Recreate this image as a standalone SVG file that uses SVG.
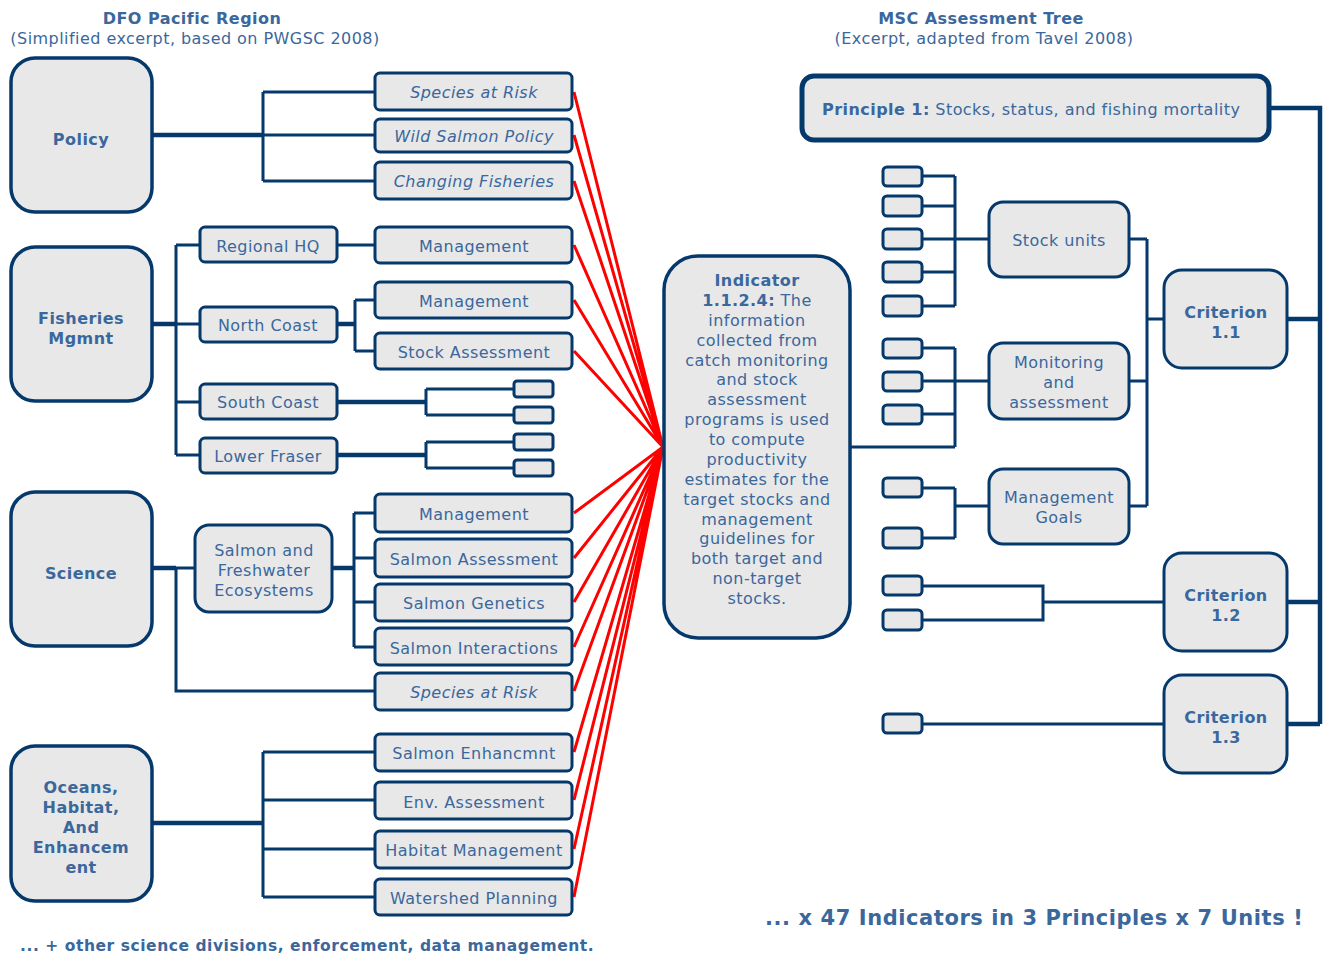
<svg xmlns="http://www.w3.org/2000/svg" width="1324" height="956" viewBox="0 0 1324 956">
<style>
text{font-family:"DejaVu Sans","Verdana",sans-serif;fill:#3a679c;font-size:16px;text-anchor:middle;dominant-baseline:central;letter-spacing:0.45px}
.b{font-weight:bold}
.i{font-style:italic}
.box{fill:#e8e8e8;stroke:#05386b;stroke-width:3}
.big{fill:#e8e8e8;stroke:#05386b;stroke-width:3.5}
.ln{fill:none;stroke:#05386b;stroke-width:3}
.th{fill:none;stroke:#05386b;stroke-width:4.5}
.red{fill:none;stroke:#ff0000;stroke-width:3}
</style>
<rect width="1324" height="956" fill="#ffffff"/>
<g id="titles">
<text x="192" y="18" class="b">DFO Pacific Region</text>
<text x="195" y="38">(Simplified excerpt, based on PWGSC 2008)</text>
<text x="981" y="18" class="b">MSC Assessment Tree</text>
<text x="984" y="38">(Excerpt, adapted from Tavel 2008)</text>
</g>
<g id="connectors">
<path class="th" d="M152,135H263"/>
<path class="ln" d="M263,135H375M263,92V181M263,92H375M263,181H375"/>
<path class="th" d="M152,324H176"/>
<path class="ln" d="M176,324H200M176,245V455M176,245H200M176,402H200M176,455H200M337,245H375"/>
<path class="th" d="M337,324H355"/>
<path class="ln" d="M355,300V351M355,300H375M355,351H375"/>
<path class="th" d="M337,402H426M337,455H426"/>
<path class="ln" d="M426,389V415M426,389H514M426,415H514M426,442V468M426,442H514M426,468H514"/>
<path class="th" d="M152,568H176"/>
<path class="ln" d="M176,568H195M176,568V691H375"/>
<path class="th" d="M332,568H354"/>
<path class="ln" d="M354,513V647M354,513H375M354,558H375M354,602H375M354,647H375"/>
<path class="th" d="M152,823H263"/>
<path class="ln" d="M263,752V897M263,752H375M263,800H375M263,849H375M263,897H375"/>
<path class="th" d="M1269,108H1320V724M1287,319H1320M1287,602H1320M1287,724H1320"/>
<path class="ln" d="M1147,239V506M1129,239H1147M1129,381H1147M1129,506H1147M1147,319H1164"/>
<path class="ln" d="M955,176V306M922,176H955M922,206H955M922,239H955M922,272H955M922,306H955M955,239H989"/>
<path class="ln" d="M955,348V447M922,348H955M922,381H955M922,414H955M955,381H989M851,447H955"/>
<path class="ln" d="M955,488V538M922,488H955M922,538H955M955,506H989"/>
<path class="ln" d="M922,586H1043V620H922M1043,602H1164"/>
<path class="ln" d="M922,724H1164"/>
</g>
<g id="red-links">
<path class="red" d="M574,92L663,447M574,135L663,447M574,181L663,447M574,245L663,447M574,300L663,447M574,351L663,447M574,513L663,447M574,558L663,447M574,602L663,447M574,647L663,447M574,691L663,447M574,752L663,447M574,800L663,447M574,849L663,447M574,897L663,447"/>
</g>
<g id="policy"><rect class="big" x="11" y="58" width="141" height="154" rx="24"/><text x="81" y="139" class="b">Policy</text></g>
<g id="fisheries"><rect class="big" x="11" y="247" width="141" height="154" rx="24"/><text x="81" y="318" class="b">Fisheries</text><text x="81" y="338" class="b">Mgmnt</text></g>
<g id="science"><rect class="big" x="11" y="492" width="141" height="154" rx="24"/><text x="81" y="573" class="b">Science</text></g>
<g id="oceans"><rect class="big" x="11" y="746" width="141" height="155" rx="24"/><text x="81" y="787" class="b">Oceans,</text><text x="81" y="807" class="b">Habitat,</text><text x="81" y="827" class="b">And</text><text x="81" y="847" class="b">Enhancem</text><text x="81" y="867" class="b">ent</text></g>
<g id="policy-sar"><rect class="box" x="375" y="73" width="197" height="37" rx="5"/><text x="474" y="92" class="i">Species at Risk</text></g>
<g id="policy-wsp"><rect class="box" x="375" y="119" width="197" height="33" rx="5"/><text x="474" y="136" class="i">Wild Salmon Policy</text></g>
<g id="policy-cf"><rect class="box" x="375" y="162" width="197" height="37" rx="5"/><text x="474" y="181" class="i">Changing Fisheries</text></g>
<g id="regional-hq"><rect class="box" x="200" y="227" width="137" height="35" rx="5"/><text x="268" y="246">Regional HQ</text></g>
<g id="north-coast"><rect class="box" x="200" y="307" width="137" height="35" rx="5"/><text x="268" y="325">North Coast</text></g>
<g id="south-coast"><rect class="box" x="200" y="384" width="137" height="35" rx="5"/><text x="268" y="402">South Coast</text></g>
<g id="lower-fraser"><rect class="box" x="200" y="438" width="137" height="35" rx="5"/><text x="268" y="456">Lower Fraser</text></g>
<g id="hq-management"><rect class="box" x="375" y="227" width="197" height="36" rx="5"/><text x="474" y="246">Management</text></g>
<g id="nc-management"><rect class="box" x="375" y="282" width="197" height="36" rx="5"/><text x="474" y="301">Management</text></g>
<g id="nc-stock"><rect class="box" x="375" y="333" width="197" height="36" rx="5"/><text x="474" y="352">Stock Assessment</text></g>
<g id="small-left">
<rect class="box" x="514" y="381" width="39" height="16" rx="3"/>
<rect class="box" x="514" y="407" width="39" height="16" rx="3"/>
<rect class="box" x="514" y="434" width="39" height="16" rx="3"/>
<rect class="box" x="514" y="460" width="39" height="16" rx="3"/>
</g>
<g id="sfe"><rect class="box" x="195" y="525" width="137" height="87" rx="14"/><text x="264" y="550">Salmon and</text><text x="264" y="570">Freshwater</text><text x="264" y="590">Ecosystems</text></g>
<g id="sci-management"><rect class="box" x="375" y="494" width="197" height="38" rx="5"/><text x="474" y="514">Management</text></g>
<g id="sci-assessment"><rect class="box" x="375" y="539" width="197" height="38" rx="5"/><text x="474" y="559">Salmon Assessment</text></g>
<g id="sci-genetics"><rect class="box" x="375" y="584" width="197" height="37" rx="5"/><text x="474" y="603">Salmon Genetics</text></g>
<g id="sci-interactions"><rect class="box" x="375" y="628" width="197" height="37" rx="5"/><text x="474" y="648">Salmon Interactions</text></g>
<g id="sci-sar"><rect class="box" x="375" y="673" width="197" height="37" rx="5"/><text x="474" y="692" class="i">Species at Risk</text></g>
<g id="ohe-enh"><rect class="box" x="375" y="734" width="197" height="37" rx="5"/><text x="474" y="753">Salmon Enhancmnt</text></g>
<g id="ohe-env"><rect class="box" x="375" y="782" width="197" height="37" rx="5"/><text x="474" y="802">Env. Assessment</text></g>
<g id="ohe-habitat"><rect class="box" x="375" y="831" width="197" height="37" rx="5"/><text x="474" y="850">Habitat Management</text></g>
<g id="ohe-watershed"><rect class="box" x="375" y="879" width="197" height="36" rx="5"/><text x="474" y="898">Watershed Planning</text></g>
<g id="indicator"><rect class="big" x="664" y="256" width="186" height="382" rx="34"/>
<text x="757" y="280" class="b">Indicator</text>
<text x="757" y="300"><tspan class="b">1.1.2.4:</tspan> The</text>
<text x="757" y="320">information</text>
<text x="757" y="340">collected from</text>
<text x="757" y="360">catch monitoring</text>
<text x="757" y="379">and stock</text>
<text x="757" y="399">assessment</text>
<text x="757" y="419">programs is used</text>
<text x="757" y="439">to compute</text>
<text x="757" y="459">productivity</text>
<text x="757" y="479">estimates for the</text>
<text x="757" y="499">target stocks and</text>
<text x="757" y="519">management</text>
<text x="757" y="538">guidelines for</text>
<text x="757" y="558">both target and</text>
<text x="757" y="578">non-target</text>
<text x="757" y="598">stocks.</text>
</g>
<g id="principle1"><rect x="802" y="76" width="467" height="64" rx="12" fill="#e8e8e8" stroke="#05386b" stroke-width="5"/><text x="822" y="109" style="text-anchor:start"><tspan class="b">Principle 1:</tspan> Stocks, status, and fishing mortality</text></g>
<g id="stock-units"><rect class="box" x="989" y="202" width="140" height="75" rx="14"/><text x="1059" y="240">Stock units</text></g>
<g id="monitoring"><rect class="box" x="989" y="343" width="140" height="76" rx="14"/><text x="1059" y="362">Monitoring</text><text x="1059" y="382">and</text><text x="1059" y="402">assessment</text></g>
<g id="mgmt-goals"><rect class="box" x="989" y="469" width="140" height="75" rx="14"/><text x="1059" y="497">Management</text><text x="1059" y="517">Goals</text></g>
<g id="criterion-1-1"><rect class="box" x="1164" y="270" width="123" height="98" rx="18"/><text x="1226" y="312" class="b">Criterion</text><text x="1226" y="332" class="b">1.1</text></g>
<g id="criterion-1-2"><rect class="box" x="1164" y="553" width="123" height="98" rx="18"/><text x="1226" y="595" class="b">Criterion</text><text x="1226" y="615" class="b">1.2</text></g>
<g id="criterion-1-3"><rect class="box" x="1164" y="675" width="123" height="98" rx="18"/><text x="1226" y="717" class="b">Criterion</text><text x="1226" y="737" class="b">1.3</text></g>
<g id="small-right">
<rect class="box" x="883" y="167" width="39" height="19" rx="4"/>
<rect class="box" x="883" y="196" width="39" height="20" rx="4"/>
<rect class="box" x="883" y="229" width="39" height="20" rx="4"/>
<rect class="box" x="883" y="262" width="39" height="20" rx="4"/>
<rect class="box" x="883" y="296" width="39" height="20" rx="4"/>
<rect class="box" x="883" y="339" width="39" height="19" rx="4"/>
<rect class="box" x="883" y="372" width="39" height="19" rx="4"/>
<rect class="box" x="883" y="405" width="39" height="19" rx="4"/>
<rect class="box" x="883" y="478" width="39" height="19" rx="4"/>
<rect class="box" x="883" y="528" width="39" height="20" rx="4"/>
<rect class="box" x="883" y="576" width="39" height="19" rx="4"/>
<rect class="box" x="883" y="610" width="39" height="20" rx="4"/>
<rect class="box" x="883" y="714" width="39" height="19" rx="4"/>
</g>
<g id="footer">
<text x="20" y="946" class="b" style="text-anchor:start;font-size:15.5px;letter-spacing:0.55px">... + other science divisions, enforcement, data management.</text>
<text x="765" y="918" class="b" style="text-anchor:start;font-size:21px;letter-spacing:0.57px">... x 47 Indicators in 3 Principles x 7 Units !</text>
</g>
</svg>
